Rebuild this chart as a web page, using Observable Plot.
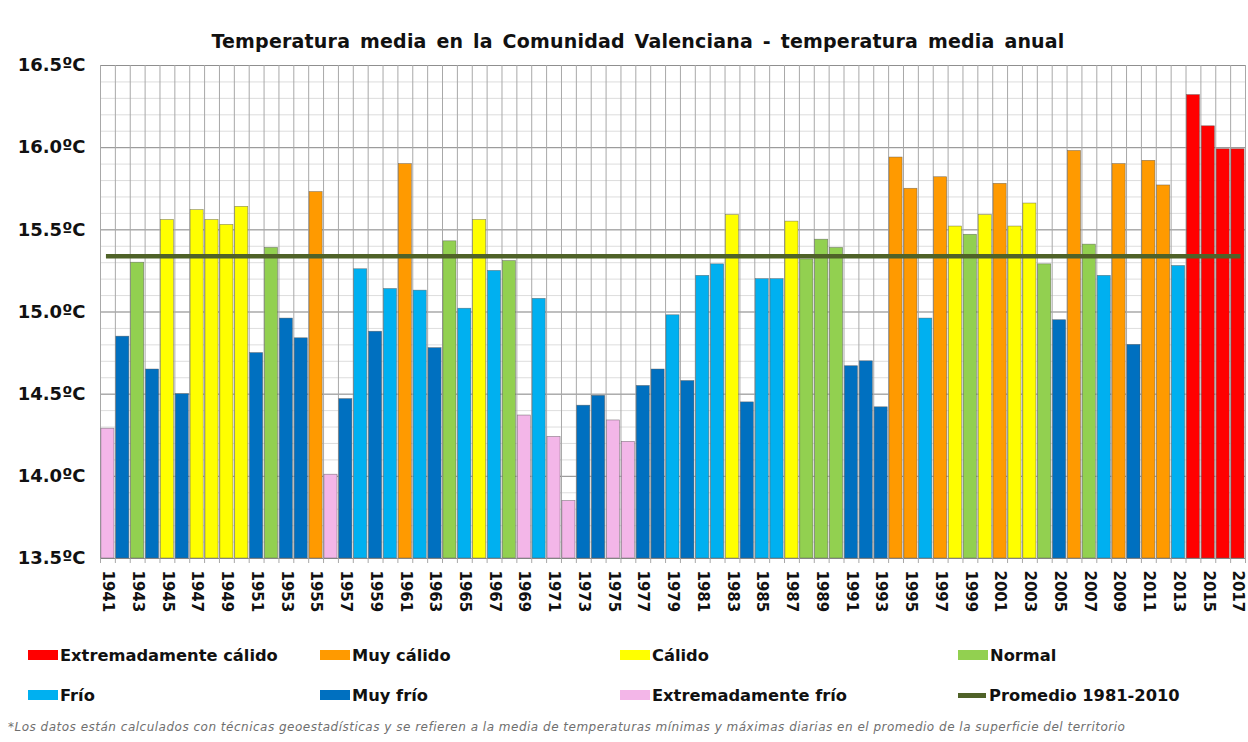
<!DOCTYPE html>
<html><head><meta charset="utf-8">
<script src="https://cdn.jsdelivr.net/npm/d3@7"></script>
<script src="https://cdn.jsdelivr.net/npm/@observablehq/plot@0.6"></script>
<style>
body{margin:0;background:#fff;}
#wrap{position:relative;width:1248px;height:742px;overflow:hidden;background:#fff;}
#title{position:absolute;left:0;top:30px;width:1276px;text-align:center;font:bold 19px "DejaVu Sans",sans-serif;color:#111;letter-spacing:0.2px;word-spacing:3px;}
#chart{position:absolute;left:0;top:55px;}
.lg{position:absolute;font:bold 16.3px "DejaVu Sans",sans-serif;color:#111;display:flex;align-items:center;height:22px;}
.sw{display:inline-block;width:30px;height:10px;margin-right:2px;}
.ln{display:inline-block;width:28px;height:5px;margin-right:3px;}
#note{position:absolute;left:8px;top:720px;font:oblique 12px "DejaVu Sans",sans-serif;color:#6f6f6f;white-space:nowrap;letter-spacing:0.5px;}
</style></head>
<body>
<div id="wrap">
  <div id="title">Temperatura media en la Comunidad Valenciana - temperatura media anual</div>
  <div id="chart"></div>
  <div id="legend"></div>
  <div id="note">*Los datos están calculados con técnicas geoestadísticas y se refieren a la media de temperaturas mínimas y máximas diarias en el promedio de la superficie del territorio</div>
</div>
<script>
const years = [1941,1942,1943,1944,1945,1946,1947,1948,1949,1950,
1951,1952,1953,1954,1955,1956,1957,1958,1959,1960,
1961,1962,1963,1964,1965,1966,1967,1968,1969,1970,
1971,1972,1973,1974,1975,1976,1977,1978,1979,1980,
1981,1982,1983,1984,1985,1986,1987,1988,1989,1990,
1991,1992,1993,1994,1995,1996,1997,1998,1999,2000,
2001,2002,2003,2004,2005,2006,2007,2008,2009,2010,
2011,2012,2013,2014,2015,2016,2017];

const temps = [14.29,14.85,15.30,14.65,15.56,14.50,15.62,15.56,15.53,15.64,
14.75,15.39,14.96,14.84,15.73,14.01,14.47,15.26,14.88,15.14,
15.90,15.13,14.78,15.43,15.02,15.56,15.25,15.31,14.37,15.08,
14.24,13.85,14.43,14.49,14.34,14.21,14.55,14.65,14.98,14.58,
15.22,15.29,15.59,14.45,15.20,15.20,15.55,15.32,15.44,15.39,
14.67,14.70,14.42,15.94,15.75,14.96,15.82,15.52,15.47,15.59,
15.78,15.52,15.66,15.29,14.95,15.98,15.41,15.22,15.90,14.80,
15.92,15.77,15.28,16.32,16.13,15.99,15.99];

const classes = ["EF","MF","N","MF","C","MF","C","C","C","C",
"MF","N","MF","MF","MC","EF","MF","F","MF","F",
"MC","F","MF","N","F","C","F","N","EF","F",
"EF","EF","MF","MF","EF","EF","MF","MF","F","MF",
"F","F","C","MF","F","F","C","N","N","N",
"MF","MF","MF","MC","MC","F","MC","C","N","C",
"MC","C","C","N","MF","MC","N","F","MC","MF",
"MC","MC","F","EC","EC","EC","EC"];

const classCodes = ["EC","MC","C","N","F","MF","EF"];
const classNames = ["Extremadamente cálido","Muy cálido","Cálido","Normal","Frío","Muy frío","Extremadamente frío"];
const classColors = ["#ff0000","#ff9a00","#ffff00","#92d050","#00b0f0","#0070c0","#f3b6e8"];

const average = 15.34;
const averageLabel = "Promedio 1981-2010";
const yTicks = [13.5,14.0,14.5,15.0,15.5,16.0,16.5];
const yMin = 13.5, yMax = 16.5;

const data = years.map((y,i)=>({year:y, value:temps[i], cls:classes[i]}));
const boundaries = years.map(y=>y-0.5).concat([years[years.length-1]+0.5]);
const minor = d3.range(yMin, yMax+0.001, 0.1).map(v=>+v.toFixed(1));
const oddYears = years.filter(y=>y%2===1);

const chart = Plot.plot({
  width:1248, height:585,
  marginTop:10, marginBottom:82, marginLeft:100, marginRight:3,
  x:{domain:[years[0]-0.5, years[years.length-1]+0.5]},
  y:{domain:[yMin,yMax]},
  color:{domain:classCodes, range:classColors},
  style:{background:"transparent"},
  marks:[
    Plot.ruleY(minor, {stroke:"#d4d4d4", strokeWidth:0.8}),
    Plot.ruleY(yTicks, {stroke:"#8f8f8f", strokeWidth:1}),
    Plot.ruleX(boundaries, {stroke:"#a8a8a8", strokeWidth:1, insetBottom:-5}),
    Plot.rectY(data, {x1:d=>d.year-0.5, x2:d=>d.year+0.5, y1:yMin, y2:"value", fill:"cls",
      insetLeft:0.9, insetRight:0.9, stroke:"#555", strokeWidth:0.6, strokeOpacity:0.7}),
    Plot.ruleY([average], {x1:years[0]-0.1, x2:years[years.length-1]+0.2, stroke:"#4f6228", strokeWidth:4.5}),
    Plot.axisY(yTicks, {tickSize:0, tickPadding:15, tickFormat:d=>d.toFixed(1)+"ºC",
      fontSize:18, fontWeight:"bold", fontFamily:"DejaVu Sans", fill:"#111", label:null}),
    Plot.axisX(oddYears, {tickSize:0, tickPadding:12, tickRotate:90, tickFormat:d=>String(d),
      fontSize:15, fontWeight:"bold", fontFamily:"DejaVu Sans", fill:"#111", label:null})
  ]
});
document.getElementById("chart").appendChild(chart);

// legend
const legend = document.getElementById("legend");
const pos = [[28,644],[320,644],[620,644],[958,644],[28,684],[320,684],[620,684]];
classCodes.forEach((c,i)=>{
  const el = document.createElement("div");
  el.className="lg";
  el.style.left=pos[i][0]+"px"; el.style.top=pos[i][1]+"px";
  el.innerHTML=`<span class="sw" style="background:${classColors[i]}"></span>${classNames[i]}`;
  legend.appendChild(el);
});
const avgEl = document.createElement("div");
avgEl.className="lg"; avgEl.style.left="958px"; avgEl.style.top="684px";
avgEl.innerHTML=`<span class="ln" style="background:#4f6228"></span>${averageLabel}`;
legend.appendChild(avgEl);
</script>
</body></html>
